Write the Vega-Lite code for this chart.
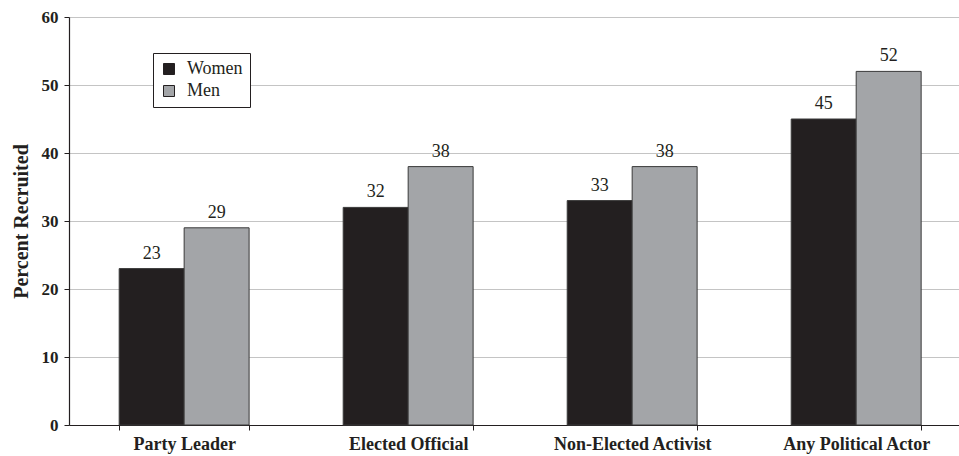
{
  "$schema": "https://vega.github.io/schema/vega-lite/v6.json",
  "width": 890,
  "height": 408,
  "autosize": {"type": "none"},
  "padding": {"left": 69, "top": 17, "right": 0, "bottom": 31},
  "background": "white",
  "config": {
    "font": "Liberation Serif",
    "view": {"stroke": null}
  },
  "data": {
    "values": [
      {"category": "Party Leader", "gender": "Women", "value": 23},
      {"category": "Party Leader", "gender": "Men", "value": 29},
      {"category": "Elected Official", "gender": "Women", "value": 32},
      {"category": "Elected Official", "gender": "Men", "value": 38},
      {"category": "Non-Elected Activist", "gender": "Women", "value": 33},
      {"category": "Non-Elected Activist", "gender": "Men", "value": 38},
      {"category": "Any Political Actor", "gender": "Women", "value": 45},
      {"category": "Any Political Actor", "gender": "Men", "value": 52}
    ]
  },
  "encoding": {
    "x": {
      "field": "category",
      "type": "nominal",
      "sort": ["Party Leader", "Elected Official", "Non-Elected Activist", "Any Political Actor"],
      "scale": {"paddingInner": 0.42, "paddingOuter": 0.1965, "align": 0.57},
      "axis": {
        "title": null,
        "labelAngle": 0,
        "labelFont": "Liberation Serif",
        "labelFontWeight": "bold",
        "labelFontSize": 18,
        "labelColor": "#231f20",
        "labelPadding": 5,
        "domainColor": "#231f20",
        "domainWidth": 1.2,
        "tickColor": "#231f20",
        "tickBand": "extent",
        "tickSize": 5,
        "grid": false
      }
    },
    "xOffset": {
      "field": "gender",
      "type": "nominal",
      "sort": ["Women", "Men"],
      "scale": {"paddingInner": 0, "paddingOuter": 0}
    }
  },
  "layer": [
    {
      "mark": {"type": "bar", "stroke": "#3a3a3a", "strokeWidth": 1},
      "encoding": {
        "y": {
          "field": "value",
          "type": "quantitative",
          "scale": {"domain": [0, 60], "nice": false},
          "axis": {
            "title": "Percent Recruited",
            "titleFont": "Liberation Serif",
            "titleFontWeight": "bold",
            "titleFontSize": 20,
            "titleColor": "#231f20",
            "titlePadding": 10,
            "values": [0, 10, 20, 30, 40, 50, 60],
            "labelFont": "Liberation Serif",
            "labelFontWeight": "bold",
            "labelFontSize": 17,
            "labelColor": "#231f20",
            "labelPadding": 6,
            "tickSize": 5,
            "tickColor": "#231f20",
            "domainColor": "#231f20",
            "domainWidth": 1.2,
            "grid": true,
            "gridColor": "#c4c4c4",
            "gridWidth": 1
          }
        },
        "fill": {
          "field": "gender",
          "type": "nominal",
          "sort": ["Women", "Men"],
          "scale": {"domain": ["Women", "Men"], "range": ["#231f20", "#a3a5a8"]},
          "legend": {
            "title": null,
            "orient": "none",
            "legendX": 84,
            "legendY": 36,
            "symbolType": "square",
            "symbolSize": 121,
            "symbolStrokeColor": "#231f20",
            "symbolStrokeWidth": 1,
            "labelFont": "Liberation Serif",
            "labelFontSize": 18,
            "labelColor": "#231f20",
            "fillColor": "white",
            "strokeColor": "#231f20",
            "padding": 7,
            "rowPadding": 4,
            "labelOffset": 9
          }
        }
      }
    },
    {
      "mark": {"type": "text", "baseline": "alphabetic", "dy": -10, "fontSize": 18, "font": "Liberation Serif", "color": "#231f20"},
      "encoding": {
        "y": {"field": "value", "type": "quantitative"},
        "text": {"field": "value", "type": "quantitative"}
      }
    }
  ]
}
